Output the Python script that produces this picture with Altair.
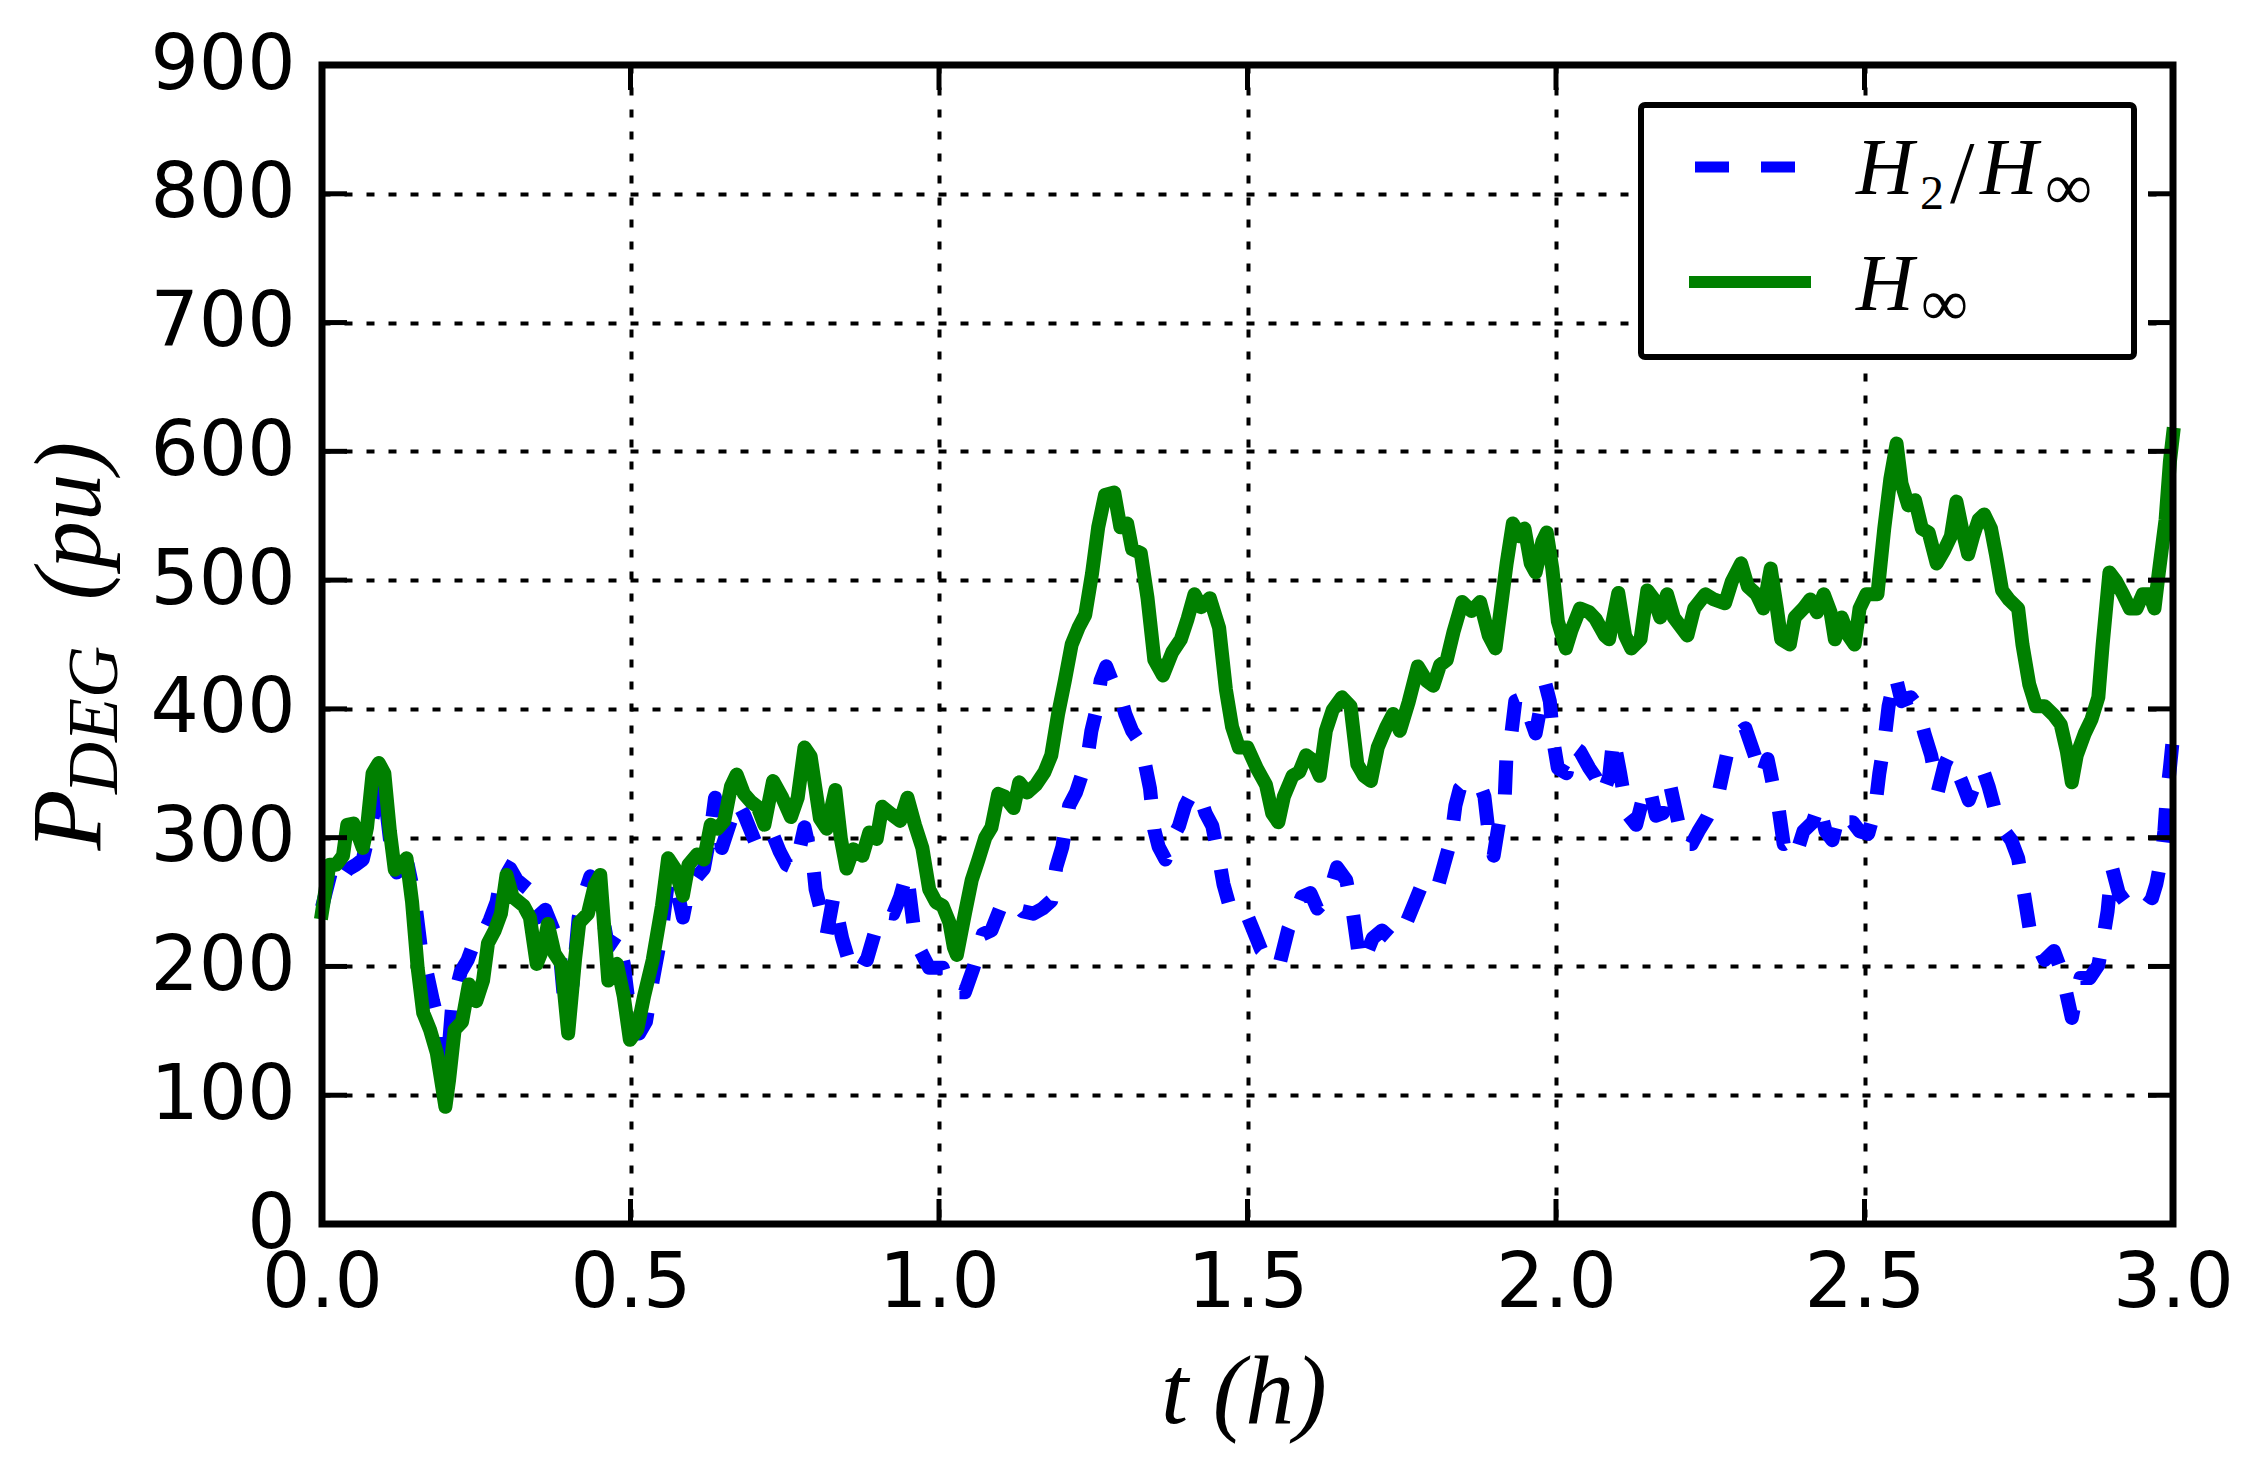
import altair as alt
import pandas as pd

# ---------------- data ----------------
t_h2 = [0, 0.016, 0.03, 0.041, 0.055, 0.066, 0.077, 0.088, 0.099, 0.11, 0.121, 0.139, 0.15, 0.16, 0.171,
        0.18, 0.19, 0.195, 0.2, 0.206, 0.211, 0.225, 0.236, 0.249, 0.262, 0.272, 0.283, 0.294, 0.305, 0.316,
        0.334, 0.348, 0.362, 0.373, 0.384, 0.395, 0.406, 0.416, 0.428, 0.435, 0.449, 0.464, 0.478, 0.489,
        0.5, 0.514, 0.525, 0.536, 0.551, 0.561, 0.572, 0.585, 0.594, 0.608, 0.619, 0.63, 0.637, 0.648,
        0.659, 0.673, 0.684, 0.695, 0.706, 0.72, 0.731, 0.742, 0.753, 0.767, 0.782, 0.796, 0.8, 0.81,
        0.818, 0.829, 0.843, 0.857, 0.868, 0.883, 0.897, 0.911, 0.926, 0.937, 0.948, 0.959, 0.97, 0.984,
        1.006, 1.017, 1.031, 1.042, 1.056, 1.071, 1.085, 1.099,
        1.11, 1.121, 1.135, 1.153, 1.168, 1.182, 1.19, 1.2, 1.211, 1.222, 1.233, 1.24, 1.247, 1.255,
        1.262, 1.271, 1.28, 1.291, 1.302, 1.313, 1.327, 1.334, 1.342, 1.349, 1.356, 1.367, 1.378, 1.389,
        1.399, 1.41, 1.421, 1.432, 1.443, 1.454, 1.461, 1.472, 1.486, 1.501, 1.512, 1.522, 1.537, 1.551,
        1.566, 1.577, 1.588, 1.602, 1.613, 1.624, 1.635, 1.645, 1.66, 1.671, 1.682, 1.692, 1.703, 1.718,
        1.732, 1.747, 1.761, 1.772, 1.783, 1.797, 1.808, 1.819, 1.83, 1.837, 1.844, 1.855, 1.866, 1.877,
        1.884, 1.891, 1.899, 1.91, 1.917,
        1.92, 1.927, 1.934, 1.949, 1.959, 1.967, 1.974, 1.983, 1.99, 1.996, 2.003, 2.017, 2.028, 2.039,
        2.054, 2.064, 2.075, 2.086, 2.093, 2.104, 2.115, 2.13, 2.14, 2.151, 2.162, 2.173, 2.184, 2.195,
        2.206, 2.22, 2.231, 2.245, 2.264, 2.278, 2.289, 2.307, 2.322, 2.333, 2.343, 2.352, 2.361, 2.369,
        2.379, 2.39, 2.401, 2.416, 2.426, 2.437, 2.448, 2.459, 2.47, 2.481, 2.492, 2.506, 2.517, 2.524,
        2.532, 2.539, 2.55, 2.56, 2.575, 2.586, 2.597, 2.608, 2.619, 2.63, 2.637, 2.648, 2.658, 2.669,
        2.68, 2.691, 2.701, 2.709, 2.716, 2.727, 2.738, 2.749, 2.756, 2.763, 2.77, 2.781, 2.792, 2.807,
        2.818, 2.825, 2.836, 2.843, 2.85, 2.865, 2.879, 2.886, 2.894, 2.901, 2.912, 2.923, 2.933, 2.944,
        2.955, 2.966, 2.973, 2.981, 2.986, 2.99, 2.995, 3.0]
p_h2 = [246, 276, 267, 275, 279, 283, 305, 328, 344, 299, 273, 279, 254, 215, 193,
        173, 154, 125, 118, 140, 170, 196, 205, 222, 226, 236, 250, 279, 276, 267,
        260, 238, 244, 231, 218, 160, 186, 238, 260, 270, 254, 215, 225, 202,
        160, 148, 157, 189, 228, 267, 267, 238, 260, 270, 276, 305, 331, 292,
        308, 328, 318, 305, 292, 299, 302, 289, 279, 276, 308, 279, 260, 241,
        225, 254, 222, 199, 209, 205, 228, 242, 241, 254, 273, 231, 212, 199,
        199, 183, 180, 180, 199, 225, 228, 245,
        248, 251, 243, 241, 245, 251, 277, 293, 325, 335, 351, 360, 383, 399,
        422, 433, 422, 415, 396, 383, 373, 357, 338, 306, 293, 283, 299, 309,
        325, 335, 335, 319, 309, 283, 264, 245, 237, 238, 225, 213, 206, 200,
        229, 241, 254, 257, 245, 251, 261, 277, 267, 241, 203, 209, 222, 228,
        222, 222, 238, 251, 264, 258, 261, 280, 299, 325, 338, 344, 344, 341,
        332, 303, 286, 319, 332,
        367, 378, 406, 409, 392, 381, 399, 419, 406, 374, 354, 350, 371, 367,
        354, 347, 333, 347, 378, 350, 319, 310, 329, 340, 317, 319, 343, 319,
        295, 295, 305, 316, 336, 367, 378, 385, 364, 347, 361, 340, 322, 295,
        298, 288, 305, 312, 326, 305, 298, 319, 312, 312, 305, 303, 322, 350,
        374, 402, 426, 406, 409, 402, 381, 364, 336, 357, 364, 354, 343, 329,
        343, 354, 340, 326, 312, 305, 298, 284, 264, 243, 222, 216, 205, 212,
        198, 184, 160, 177, 191, 191, 201, 219, 243, 277, 257, 250, 253, 260,
        257, 253, 264, 284, 305, 333, 354, 378]

t_hinf = [0, 0.012, 0.023, 0.034, 0.041, 0.051, 0.06, 0.066, 0.073, 0.082, 0.092, 0.101, 0.11, 0.118,
          0.128, 0.137, 0.146, 0.155, 0.164, 0.175, 0.186, 0.195, 0.2, 0.206, 0.215, 0.227, 0.238, 0.25,
          0.261, 0.269, 0.28, 0.29, 0.299, 0.309, 0.327, 0.337, 0.348, 0.359, 0.366, 0.377, 0.388, 0.399,
          0.41, 0.417, 0.431, 0.442, 0.451, 0.464, 0.478, 0.489, 0.499, 0.511, 0.522, 0.536, 0.551, 0.561,
          0.572, 0.585, 0.594, 0.608, 0.619, 0.63, 0.641, 0.652, 0.663, 0.672, 0.684, 0.695, 0.706, 0.717,
          0.731, 0.746, 0.76, 0.771, 0.782, 0.792, 0.807, 0.818, 0.832, 0.841, 0.85, 0.861, 0.876, 0.887,
          0.899, 0.908, 0.923, 0.937, 0.949, 0.961, 0.973, 0.984, 0.995, 1.006, 1.017, 1.024, 1.029, 1.042,
          1.053, 1.064, 1.075, 1.085, 1.096,
          1.106, 1.121, 1.13, 1.143, 1.157, 1.171, 1.182, 1.193, 1.204, 1.215, 1.226, 1.237, 1.248, 1.258,
          1.269, 1.284, 1.294, 1.305, 1.313, 1.327, 1.338, 1.349, 1.363, 1.378, 1.392, 1.403, 1.414, 1.425,
          1.439, 1.454, 1.465, 1.475, 1.486, 1.5, 1.515, 1.53, 1.54, 1.55, 1.559, 1.573, 1.584, 1.595,
          1.606, 1.617, 1.627, 1.638, 1.653, 1.667, 1.678, 1.689, 1.7, 1.711, 1.725, 1.736, 1.747, 1.761,
          1.776, 1.79, 1.801, 1.812, 1.823, 1.834, 1.848, 1.863, 1.877, 1.891, 1.902,
          1.92, 1.93, 1.941, 1.949, 1.959, 1.967, 1.978, 1.985, 1.994, 2.003, 2.016, 2.025, 2.039, 2.054,
          2.064, 2.079, 2.086, 2.101, 2.112, 2.122, 2.137, 2.148, 2.159, 2.169, 2.18, 2.191, 2.202, 2.213,
          2.224, 2.242, 2.256, 2.274, 2.285, 2.3, 2.311, 2.325, 2.336, 2.348, 2.358, 2.365, 2.379, 2.387,
          2.401, 2.412, 2.423, 2.434, 2.445, 2.452, 2.463, 2.474, 2.484, 2.492, 2.503, 2.521, 2.532, 2.542,
          2.552, 2.56, 2.571, 2.582, 2.593, 2.604, 2.617, 2.629, 2.64, 2.649, 2.658, 2.668, 2.676, 2.685,
          2.694, 2.705, 2.713, 2.723, 2.734, 2.749, 2.756, 2.767, 2.778, 2.792, 2.807, 2.818, 2.828, 2.836,
          2.844, 2.857, 2.868, 2.879, 2.886, 2.897, 2.908, 2.919, 2.93, 2.941, 2.951, 2.962, 2.97, 2.977,
          2.988, 2.995, 3.0]
p_hinf = [242, 279, 279, 286, 310, 311, 300, 292, 308, 350, 358, 350, 305, 275,
          279, 284, 250, 199, 164, 151, 133, 106, 91, 112, 151, 157, 186, 173,
          189, 218, 228, 241, 271, 254, 247, 238, 202, 215, 233, 210, 202, 148,
          205, 234, 241, 263, 271, 189, 202, 177, 143, 151, 177, 205, 247, 284,
          276, 255, 279, 287, 283, 310, 307, 313, 340, 349, 334, 328, 324, 310,
          344, 331, 316, 331, 370, 363, 315, 307, 337, 299, 276, 291, 286, 304,
          299, 324, 318, 313, 331, 310, 292, 260, 250, 247, 234, 215, 209, 241,
          267, 283, 300, 308, 334,
          332, 323, 343, 335, 341, 351, 364, 396, 422, 450, 463, 473, 505, 541,
          566, 568, 541, 544, 524, 521, 486, 438, 426, 444, 454, 470, 489, 479,
          486, 463, 415, 386, 370, 370, 354, 341, 319, 312, 332, 348, 351, 364,
          360, 348, 383, 399, 409, 402, 357, 348, 344, 370, 386, 396, 383, 405,
          433, 422, 418, 434, 438, 460, 483, 476, 483, 457, 447,
          513, 544, 534, 540, 513, 506, 530, 537, 509, 468, 447, 461, 478, 475,
          470, 457, 454, 490, 457, 447, 454, 492, 485, 471, 489, 471, 464, 457,
          478, 489, 485, 482, 499, 513, 495, 489, 478, 509, 478, 454, 450, 471,
          478, 485, 475, 489, 475, 454, 471, 457, 450, 478, 489, 489, 540, 579,
          606, 575, 558, 562, 540, 537, 513, 523, 534, 561, 540, 520, 534, 547,
          551, 540, 520, 492, 485, 478, 450, 419, 402, 402, 395, 388, 367, 343,
          364, 381, 392, 409, 450, 506, 499, 489, 478, 478, 489, 489, 478, 506,
          547, 592, 613]

series_names = ["H2/Hinf", "Hinf"]
x_ticks = [0.0, 0.5, 1.0, 1.5, 2.0, 2.5, 3.0]
y_ticks = [0, 100, 200, 300, 400, 500, 600, 700, 800, 900]

# ---------------- layout constants ----------------
W, H = 1851, 1159
LABEL_FONT = "DejaVu Sans"
SERIF = "Liberation Serif"

df_h2 = pd.DataFrame({"t": t_h2, "p": p_h2, "series": series_names[0]})
df_hinf = pd.DataFrame({"t": t_hinf, "p": p_hinf, "series": series_names[1]})
one = pd.DataFrame({"k": [0]})
df_xt = pd.DataFrame({"t": x_ticks})
df_yt = pd.DataFrame({"p": y_ticks})

xs = alt.Scale(domain=[0, 3], nice=False, zero=False)
ys = alt.Scale(domain=[0, 900], nice=False, zero=False)

x_axis = alt.Axis(values=x_ticks, format=".1f", labelFont=LABEL_FONT, labelFontSize=76,
                  labelColor="black", labelPadding=22, labelFlush=False, labelOverlap=False,
                  ticks=False, domain=False, grid=True, gridColor="black",
                  gridDash=[8, 14], gridWidth=4, gridOpacity=1)
y_axis = alt.Axis(values=y_ticks, format="d", labelFont=LABEL_FONT, labelFontSize=76,
                  labelColor="black", labelPadding=27, labelFlush=False, labelOverlap=False,
                  ticks=False, domain=False, grid=True, gridColor="black",
                  gridDash=[8, 14], gridWidth=4, gridOpacity=1)

X = alt.X("t:Q", scale=xs, axis=x_axis, title="")
Y = alt.Y("p:Q", scale=ys, axis=y_axis, title="")

line_h2 = alt.Chart(df_h2).mark_line(
    color="#0000ff", strokeWidth=14, strokeDash=[34, 30], strokeCap="butt", strokeJoin="round"
).encode(x=X, y=Y, order="t:Q")
line_hinf = alt.Chart(df_hinf).mark_line(
    color="#008000", strokeWidth=14, strokeCap="square", strokeJoin="round"
).encode(x=X, y=Y, order="t:Q")

frame = alt.Chart(one).mark_rect(fill="transparent", stroke="black", strokeWidth=7).encode(
    x=alt.value(0), x2=alt.value(W), y=alt.value(0), y2=alt.value(H))

TL = 25
tick_left = alt.Chart(df_yt).mark_rule(color="black", strokeWidth=5).encode(
    y=Y, x=alt.value(0), x2=alt.value(TL))
tick_right = alt.Chart(df_yt).mark_rule(color="black", strokeWidth=5).encode(
    y=Y, x=alt.value(W - TL), x2=alt.value(W))
tick_bottom = alt.Chart(df_xt).mark_rule(color="black", strokeWidth=5).encode(
    x=X, y=alt.value(H - TL), y2=alt.value(H))
tick_top = alt.Chart(df_xt).mark_rule(color="black", strokeWidth=5).encode(
    x=X, y=alt.value(0), y2=alt.value(TL))


def txt(s, x, y, size, italic=True, angle=0, align="left", font=SERIF):
    kw = dict(text=s, fontSize=size, font=font, align=align, baseline="alphabetic", color="black")
    if italic:
        kw["fontStyle"] = "italic"
    if angle:
        kw["angle"] = angle
    return alt.Chart(one).mark_text(**kw).encode(x=alt.value(x), y=alt.value(y))


# legend box and samples
leg_box = alt.Chart(one).mark_rect(fill="white", stroke="black", strokeWidth=6, cornerRadius=4).encode(
    x=alt.value(1319), x2=alt.value(1812), y=alt.value(40), y2=alt.value(292))
leg_h2 = alt.Chart(one).mark_rule(color="#0000ff", strokeWidth=11, strokeDash=[34, 32], strokeCap="butt").encode(
    x=alt.value(1373), x2=alt.value(1473), y=alt.value(102))
leg_hinf = alt.Chart(one).mark_rule(color="#008000", strokeWidth=12, strokeCap="butt").encode(
    x=alt.value(1367), x2=alt.value(1489), y=alt.value(217))

leg_texts = [
    txt("H", 1534, 129, 80),
    txt("2", 1598, 144, 48, italic=False),
    txt("/", 1628, 137, 88, italic=False),
    txt("H", 1658, 129, 80),
    txt("\u221e", 1723, 144, 66, italic=False),
    txt("H", 1534, 245, 80),
    txt("\u221e", 1599, 260, 66, italic=False),
]

# axis titles
titles = [
    txt("P", -222, 755, 100, angle=270, align="center"),
    txt("DEG", -205, 655, 72, angle=270, align="center"),
    txt("(pu)", -222, 456, 95, angle=270, align="center"),
    txt("t (h)", 922, 1358, 98, align="center"),
]

chart = alt.layer(
    line_h2, line_hinf, frame, tick_left, tick_right, tick_bottom, tick_top,
    leg_box, leg_h2, leg_hinf, *leg_texts, *titles
).properties(
    width=W, height=H,
    autosize=alt.AutoSizeParams(type="none"),
    padding={"left": 314, "top": 57, "right": 64, "bottom": 226},
).configure_view(strokeWidth=0)

chart.save("out.html", embed_options={"renderer": "svg", "actions": False})
